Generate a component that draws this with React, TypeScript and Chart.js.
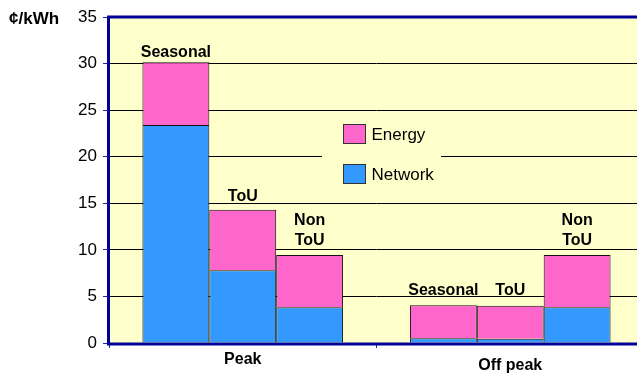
import { useEffect, useRef } from "react";
import { Chart, registerables } from "chart.js";

Chart.register(...registerables);

// Tariff components, cents per kWh, by period (Peak, Off peak)
const categories = ["Peak", "Off peak"];
const tariffLabels = [["Seasonal"], ["ToU"], ["Non", "ToU"]];
const networkSeasonal = [23.4, 0.5];
const energySeasonal = [6.75, 3.55];
const networkToU = [7.8, 0.45];
const energyToU = [6.5, 3.55];
const networkNonToU = [3.85, 3.85];
const energyNonToU = [5.6, 5.6];
const legendLabels = ["Energy", "Network"];
const unitLabel = "¢/kWh";
const yMin = 0;
const yMax = 35;
const yStep = 5;

// Styling
const FONT = "'Liberation Sans', Arial, sans-serif";
const PINK = "#FF66CC";
const BLUE = "#3399FF";
const FRAME = "#000099";
const TICK = "#2222AA";
const PLOT_BG = "#FFFFCC";
const EDGE = "#111111";
// gap in px between each bar top and its label baseline, [period][tariff]
const labelGaps = [
  [5.5, 8.5, 10],
  [10, 11, 10],
];
const labelLineStep = 20;

const plotBackground = {
  id: "plotBackground",
  beforeDraw(chart: any) {
    const { ctx, chartArea: a } = chart;
    ctx.save();
    ctx.fillStyle = PLOT_BG;
    ctx.fillRect(a.left, a.top, a.right - a.left, a.bottom - a.top);
    ctx.restore();
  },
};

const barLabels = {
  id: "barLabels",
  afterDatasetsDraw(chart: any) {
    const { ctx } = chart;
    ctx.save();
    ctx.font = `bold 16px ${FONT}`;
    ctx.fillStyle = "#000";
    ctx.textAlign = "center";
    ctx.textBaseline = "alphabetic";
    for (let t = 0; t < tariffLabels.length; t++) {
      const meta = chart.getDatasetMeta(t * 2 + 1);
      meta.data.forEach((el: any, i: number) => {
        const lines = tariffLabels[t];
        let y = el.y - labelGaps[i][t];
        for (let k = lines.length - 1; k >= 0; k--) {
          ctx.fillText(lines[k], el.x, y);
          y -= labelLineStep;
        }
      });
    }
    ctx.restore();
  },
};

const insetLegend = {
  id: "insetLegend",
  afterDatasetsDraw(chart: any) {
    const { ctx, chartArea: a } = chart;
    const left = a.left + 213;
    const top = a.top + 99;
    ctx.save();
    ctx.fillStyle = PLOT_BG;
    ctx.fillRect(left, top, 119, 80);
    const colors = [PINK, BLUE];
    ctx.font = `17px ${FONT}`;
    ctx.textBaseline = "middle";
    ctx.textAlign = "left";
    legendLabels.forEach((label, i) => {
      const sx = left + 21.5;
      const sy = top + 8.5 + i * 40;
      ctx.fillStyle = colors[i];
      ctx.fillRect(sx, sy, 22, 19);
      ctx.strokeStyle = "#333";
      ctx.lineWidth = 1;
      ctx.strokeRect(sx, sy, 22, 19);
      ctx.fillStyle = "#000";
      ctx.fillText(label, sx + 28, sy + 10.5);
    });
    ctx.restore();
  },
};

const frame = {
  id: "frame",
  afterDatasetsDraw(chart: any) {
    const { ctx, chartArea: a } = chart;
    ctx.save();
    ctx.strokeStyle = FRAME;
    ctx.lineWidth = 3;
    ctx.beginPath();
    ctx.moveTo(a.right + 2, a.top);
    ctx.lineTo(a.left - 0.5, a.top);
    ctx.lineTo(a.left - 0.5, a.bottom + 1);
    ctx.lineTo(a.right + 2, a.bottom + 1);
    ctx.stroke();
    ctx.restore();
  },
};

const unitTitle = {
  id: "unitTitle",
  afterDraw(chart: any) {
    const { ctx } = chart;
    ctx.save();
    ctx.font = `bold 17px ${FONT}`;
    ctx.fillStyle = "#000";
    ctx.textAlign = "left";
    ctx.textBaseline = "alphabetic";
    ctx.fillText(unitLabel, 9, 23.5);
    ctx.restore();
  },
};

export default function App() {
  const canvasRef = useRef<HTMLCanvasElement | null>(null);

  useEffect(() => {
    if (!canvasRef.current) return;
    const bar = (label: string, data: number[], color: string, stack: string) => ({
      label,
      data,
      stack,
      backgroundColor: color,
      borderColor: EDGE,
      borderWidth: 1,
      barPercentage: 1,
      categoryPercentage: 0.75,
    });
    const chart = new Chart(canvasRef.current, {
      type: "bar",
      data: {
        labels: categories,
        datasets: [
          bar("Network", networkSeasonal, BLUE, "seasonal"),
          bar("Energy", energySeasonal, PINK, "seasonal"),
          bar("Network", networkToU, BLUE, "tou"),
          bar("Energy", energyToU, PINK, "tou"),
          bar("Network", networkNonToU, BLUE, "nontou"),
          bar("Energy", energyNonToU, PINK, "nontou"),
        ],
      },
      options: {
        animation: false,
        responsive: true,
        maintainAspectRatio: false,
        layout: { padding: { top: 17, left: 0, right: 0, bottom: 0 } },
        plugins: {
          legend: { display: false },
          tooltip: { enabled: false },
        },
        scales: {
          x: {
            stacked: true,
            grid: {
              display: true,
              drawOnChartArea: false,
              drawTicks: true,
              tickLength: 5,
              tickColor: TICK,
              offset: true,
            },
            border: { display: false },
            ticks: {
              color: "#000",
              padding: 2,
              font: (c: any) => ({
                family: FONT,
                size: 16,
                weight: "bold",
                lineHeight: c.index === 1 ? 1.95 : 1.15,
              }),
            },
            afterFit: (s: any) => {
              s.height = 34;
            },
          },
          y: {
            stacked: true,
            min: yMin,
            max: yMax,
            ticks: {
              stepSize: yStep,
              color: "#000",
              padding: 6,
              font: { family: FONT, size: 17 },
            },
            grid: {
              color: "#000",
              lineWidth: 1,
              drawTicks: true,
              tickLength: 6,
              tickColor: TICK,
            },
            border: { display: false },
            afterFit: (s: any) => {
              s.width = 109;
            },
          },
        },
      },
      plugins: [plotBackground, barLabels, insetLegend, frame, unitTitle],
    } as any);
    return () => chart.destroy();
  }, []);

  return (
    <div
      style={{
        position: "absolute",
        left: 0,
        top: 0,
        width: 637,
        height: 377,
        overflow: "hidden",
        background: "#fff",
      }}
    >
      <div style={{ position: "relative", width: 644, height: 377 }}>
        <canvas ref={canvasRef} />
      </div>
    </div>
  );
}
